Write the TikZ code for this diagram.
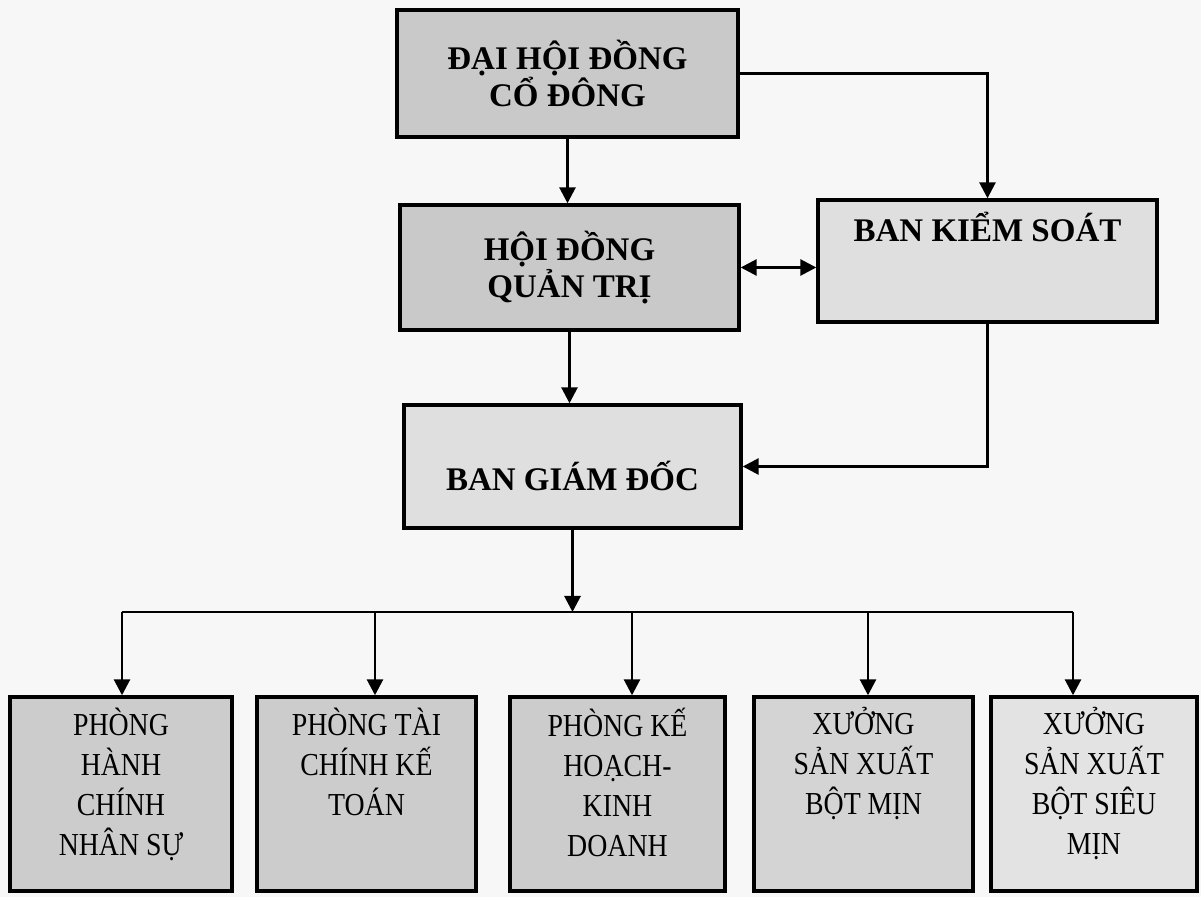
\documentclass[tikz,border=0pt]{standalone}
\usepackage{fontspec}
\setmainfont{Liberation Serif}
\newfontfamily\unitfont[FakeStretch=0.87]{Liberation Serif}
\usepackage{tikz}
\usetikzlibrary{arrows.meta}
\usetikzlibrary{positioning}

\tikzset{
    headbox/.style={draw, line width=1.7pt, fill=gray!42, minimum width=#1, inner sep=0pt,
        align=center, font=\fontsize{16.5}{17.5}\selectfont\bfseries},
    headbox/.default=170pt,
    headtext/.style={inner sep=0pt, text height=10pt, font=\fontsize{16.5}{17.5}\selectfont\bfseries},
    unitbox/.style={draw, line width=1.7pt, fill=gray!40, minimum height=97pt, inner sep=0pt},
    unittext/.style={align=center, inner sep=0pt, font=\unitfont\fontsize{16}{20}\selectfont},
    link/.style={line width=1.4pt, -{Triangle[length=8pt, width=8pt]}},
    twoway/.style={line width=1.4pt, {Triangle[length=8pt, width=8pt]}-{Triangle[length=8pt, width=8pt]}}
}

\begin{document}
\begin{tikzpicture}[x=0.5pt, y=-0.5pt]
    \fill[gray!6] (0,0) rectangle (1201,897);
    \useasboundingbox (0,0) rectangle (1201,897);

    % upper levels
    \node[headbox=170.5pt, minimum height=63.5pt] (dhcd) at (567.5,73.5) {ĐẠI HỘI ĐỒNG\\CỔ ĐÔNG};
    \node[headbox=169.5pt, minimum height=62.5pt, font=\fontsize{16.5}{18.5}\selectfont\bfseries] (hdqt) at (569.5,267.5) {HỘI ĐỒNG\\QUẢN TRỊ};
    \node[headbox=169.5pt, minimum height=61pt, fill=gray!25] (bks) at (987.5,261) {};
    \node[headtext, below=11.5pt of bks.north] (bkstext) {BAN KIỂM SOÁT};
    \node[headbox=168.5pt, minimum height=61.5pt, fill=gray!25] (bgd) at (572.5,466.5) {};
    \node[headtext, below=33.5pt of bgd.north] (bgdtext) {BAN GIÁM ĐỐC};

    \draw[link] (dhcd.south) -- (dhcd.south |- hdqt.north);
    \draw[link] (dhcd.east) -| (bks.north);
    \draw[twoway] (hdqt.east) -- (hdqt.east -| bks.west);
    \draw[link] (hdqt.south) -- (hdqt.south |- bgd.north);
    \draw[link] (bks.south) |- (bgd.east);

    % departments
    \node[unitbox, minimum width=111pt] (pb1) at (121,794) {};
    \node[unittext, below=6pt of pb1.north] (pb1text) {PHÒNG\\HÀNH\\CHÍNH\\NHÂN SỰ};
    \node[unitbox, minimum width=109.5pt] (pb2) at (366.5,794) {};
    \node[unittext, below=6pt of pb2.north] (pb2text) {PHÒNG TÀI\\CHÍNH KẾ\\TOÁN};
    \node[unitbox, minimum width=107.5pt] (pb3) at (617.5,794) {};
    \node[unittext, below=6pt of pb3.north] (pb3text) {PHÒNG KẾ\\HOẠCH-\\KINH\\DOANH};
    \node[unitbox, minimum width=109.5pt, fill=gray!34] (pb4) at (863.5,794) {};
    \node[unittext, below=6pt of pb4.north] (pb4text) {XƯỞNG\\SẢN XUẤT\\BỘT MỊN};
    \node[unitbox, minimum width=103pt, fill=gray!22] (pb5) at (1094,794) {};
    \node[unittext, below=6pt of pb5.north] (pb5text) {XƯỞNG\\SẢN XUẤT\\BỘT SIÊU\\MỊN};

    % bus line
    \coordinate (bus1) at (122,612);
    \coordinate (bus2) at (375,612);
    \coordinate (bus3) at (632,612);
    \coordinate (bus4) at (868,612);
    \coordinate (bus5) at (1073,612);
    \draw[link] (bgd.south) -- (bgd.south |- bus1);
    \draw[line width=1.4pt] (bus1) -- (bus5);
    \draw[link] (bus1) -- (bus1 |- pb1.north);
    \draw[link] (bus2) -- (bus2 |- pb2.north);
    \draw[link] (bus3) -- (bus3 |- pb3.north);
    \draw[link] (bus4) -- (bus4 |- pb4.north);
    \draw[link] (bus5) -- (bus5 |- pb5.north);
\end{tikzpicture}
\end{document}
